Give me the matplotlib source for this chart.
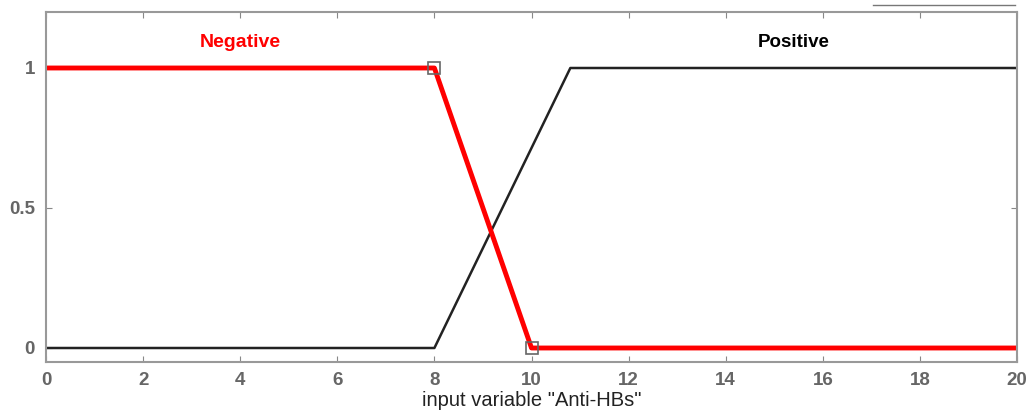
import numpy as np
import matplotlib.pyplot as plt
from matplotlib.lines import Line2D

plt.rcParams['font.family'] = ['Liberation Sans', 'DejaVu Sans']

# membership function break points
neg_x = [0, 8, 10, 20]
neg_y = [1, 1, 0, 0]
pos_x = [0, 8, 10.8, 20]
pos_y = [0, 0, 1, 1]
neg_marks_x = [8, 10]
neg_marks_y = [1, 0]

xticks = np.arange(0, 21, 2)
yticks = [0, 0.5, 1]

fig = plt.figure(figsize=(10.34, 4.17), dpi=100)
ax = fig.add_axes([46/1034, 55/417, 971/1034, 350/417])

ax.plot(pos_x, pos_y, color='#222222', lw=1.8)
ax.plot(neg_x, neg_y, color='#ff0000', lw=3.5)
ax.plot(neg_marks_x, neg_marks_y, ls='none', marker='s', ms=9,
        mfc='none', mec='#666666', mew=1.2)

ax.text(4.0, 1.09, 'Negative', color='#ff0000', fontweight='bold',
        fontsize=14, ha='center', va='center')
ax.text(15.4, 1.09, 'Positive', color='black', fontweight='bold',
        fontsize=13.5, ha='center', va='center')

ax.set_xlim(0, 20)
ax.set_ylim(-0.05, 1.2)
ax.set_xticks(xticks)
ax.set_yticks(yticks)
ax.set_yticklabels(['0', '0.5', '1'])
ax.tick_params(direction='in', top=True, right=True, colors='#888888',
               labelcolor='#666666', labelsize=13.5, length=4)
ax.tick_params(axis='x', pad=7)
ax.tick_params(axis='y', pad=8)
for lab in ax.get_xticklabels() + ax.get_yticklabels():
    lab.set_fontweight('bold')
for s in ax.spines.values():
    s.set_color('#999999')
    s.set_linewidth(1.5)

ax.set_xlabel('input variable "Anti-HBs"', fontsize=14.5, color='#222222',
              labelpad=2)

fig.add_artist(Line2D([873/1034, 1015/1034], [1 - 5/417, 1 - 5/417],
                      color='#777777', lw=1, transform=fig.transFigure))

fig.savefig('out.png', dpi=100)
